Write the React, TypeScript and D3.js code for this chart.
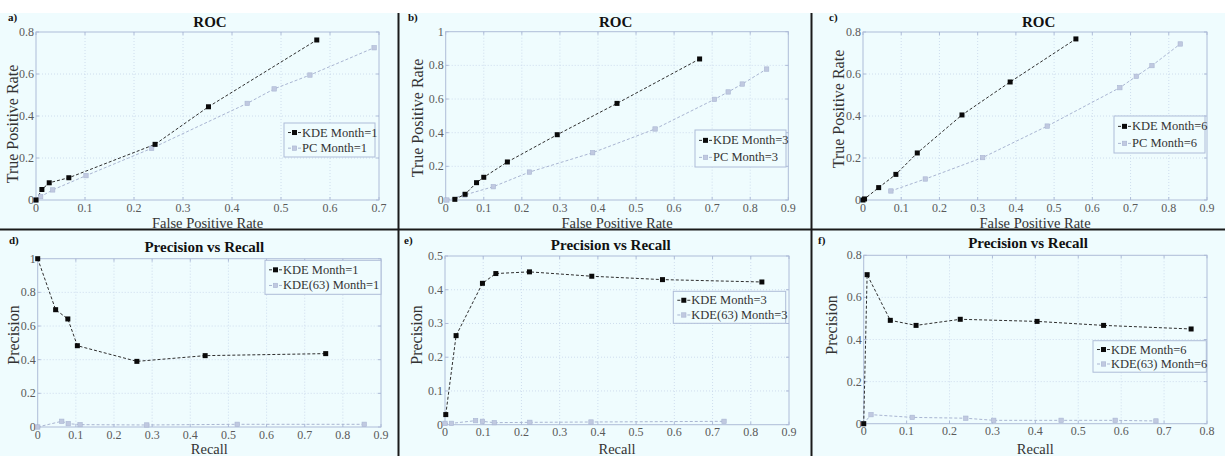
import React from "react";
import * as d3 from "d3";

// ---------- data ----------
const aKdeX = [0, 0.012, 0.027, 0.067, 0.243, 0.352, 0.573];
const aKdeY = [0, 0.05, 0.082, 0.106, 0.265, 0.444, 0.762];
const aPcX = [0, 0.0095, 0.034, 0.102, 0.236, 0.431, 0.486, 0.559, 0.69];
const aPcY = [0, 0.016, 0.048, 0.116, 0.246, 0.46, 0.529, 0.595, 0.725];

const bKdeX = [0.024, 0.051, 0.081, 0.1, 0.162, 0.293, 0.45, 0.667];
const bKdeY = [0.004, 0.034, 0.103, 0.135, 0.226, 0.388, 0.574, 0.838];
const bPcX = [0.003, 0.05, 0.125, 0.22, 0.386, 0.55, 0.706, 0.742, 0.779, 0.843];
const bPcY = [0, 0.03, 0.079, 0.166, 0.281, 0.422, 0.598, 0.642, 0.689, 0.778];

const cKdeX = [0, 0.004, 0.041, 0.086, 0.142, 0.259, 0.385, 0.557];
const cKdeY = [0, 0.005, 0.059, 0.122, 0.224, 0.405, 0.562, 0.767];
const cPcX = [0.073, 0.163, 0.313, 0.482, 0.672, 0.715, 0.756, 0.83];
const cPcY = [0.043, 0.1, 0.202, 0.352, 0.535, 0.589, 0.64, 0.743];

const dKdeX = [0, 0.047, 0.079, 0.104, 0.26, 0.439, 0.755];
const dKdeY = [1.0, 0.697, 0.642, 0.483, 0.39, 0.424, 0.436];
const d63X = [0, 0.063, 0.08, 0.111, 0.286, 0.523, 0.856];
const d63Y = [0, 0.034, 0.02, 0.014, 0.012, 0.016, 0.016];

const eKdeX = [0.002, 0.029, 0.098, 0.133, 0.221, 0.384, 0.569, 0.829];
const eKdeY = [0.03, 0.264, 0.419, 0.448, 0.453, 0.44, 0.43, 0.423];
const e63X = [0, 0.017, 0.08, 0.098, 0.129, 0.222, 0.382, 0.73];
const e63Y = [0.004, 0.004, 0.012, 0.01, 0.006, 0.007, 0.008, 0.01];

const fKdeX = [0, 0.008, 0.062, 0.122, 0.225, 0.404, 0.559, 0.763];
const fKdeY = [0, 0.708, 0.491, 0.467, 0.496, 0.486, 0.467, 0.45];
const f63X = [0, 0.017, 0.113, 0.238, 0.303, 0.46, 0.586, 0.681];
const f63Y = [0, 0.043, 0.03, 0.026, 0.016, 0.016, 0.016, 0.013];

const ticks01_07 = [0, 0.1, 0.2, 0.3, 0.4, 0.5, 0.6, 0.7];
const ticks01_08 = [0, 0.1, 0.2, 0.3, 0.4, 0.5, 0.6, 0.7, 0.8];
const ticks01_09 = [0, 0.1, 0.2, 0.3, 0.4, 0.5, 0.6, 0.7, 0.8, 0.9];
const ticks02_08 = [0, 0.2, 0.4, 0.6, 0.8];
const ticks02_10 = [0, 0.2, 0.4, 0.6, 0.8, 1];
const ticks01_05 = [0, 0.1, 0.2, 0.3, 0.4, 0.5];

const panelLetters = ["a)", "b)", "c)", "d)", "e)", "f)"];
const titles = ["ROC", "ROC", "ROC", "Precision vs Recall", "Precision vs Recall", "Precision vs Recall"];
const xLabels = ["False Positive Rate", "False Positive Rate", "False Positive Rate", "Recall", "Recall", "Recall"];
const yLabels = ["True Positive Rate", "True Positive Rate", "True Positive Rate", "Precision", "Precision", "Precision"];
const legend1 = ["KDE Month=1", "KDE Month=3", "KDE Month=6", "KDE Month=1", "KDE Month=3", "KDE Month=6"];
const legend2 = ["PC Month=1", "PC Month=3", "PC Month=6", "KDE(63) Month=1", "KDE(63) Month=3", "KDE(63) Month=6"];

const s1X = [aKdeX, bKdeX, cKdeX, dKdeX, eKdeX, fKdeX];
const s1Y = [aKdeY, bKdeY, cKdeY, dKdeY, eKdeY, fKdeY];
const s2X = [aPcX, bPcX, cPcX, d63X, e63X, f63X];
const s2Y = [aPcY, bPcY, cPcY, d63Y, e63Y, f63Y];
const xTicks = [ticks01_07, ticks01_09, ticks01_09, ticks01_09, ticks01_09, ticks01_08];
const yTicks = [ticks02_08, ticks02_10, ticks02_08, ticks02_10, ticks01_05, ticks02_08];

// ---------- layout ----------
const W = 1225;
const H = 456;
const layout = [
  { l: 36, r: 379, t: 32, b: 200, letter: [8, 21], title: [210, 27], ylab: [13, 124], xlabY: 227.5, leg: [284, 123, 91, 34] },
  { l: 445.7, r: 788.3, t: 31.7, b: 200, letter: [408, 21], title: [615.7, 27], ylab: [418, 118], xlabY: 227.5, leg: [695, 130, 91, 37] },
  { l: 863, r: 1207, t: 32, b: 200, letter: [829, 21], title: [1038.7, 27], ylab: [839, 109], xlabY: 227.5, leg: [1114, 116, 91, 37] },
  { l: 37.7, r: 381, t: 258.7, b: 427, letter: [9, 244], title: [204.3, 251.5], ylab: [13.5, 335], xlabY: 454, leg: [265, 260.3, 116, 34] },
  { l: 445, r: 789, t: 256, b: 424.7, letter: [404, 244], title: [610.7, 250], ylab: [417, 335], xlabY: 454, leg: [673.3, 291.3, 112.4, 32] },
  { l: 863.7, r: 1207, t: 255.3, b: 423.7, letter: [818, 244], title: [1028, 247.5], ylab: [832, 325], xlabY: 454, leg: [1093, 340.7, 113.3, 31.5] },
];

const BG = "#effcfe";
const AXIS = "#aebcd8";
const GRID = "#c6d6ea";
const DARK = "#2e2e2e";
const LIGHT = "#a9b5d2";
const SERIF = "'Liberation Serif', 'Times New Roman', serif";

const fmt = (v: number) => (v === 0 ? "0" : v === 1 ? "1" : d3.format(".1f")(v));

function Panel({ i }: { i: number }) {
  const L = layout[i];
  const xt = xTicks[i];
  const yt = yTicks[i];
  const x = d3.scaleLinear().domain([0, xt[xt.length - 1]]).range([L.l, L.r]);
  const y = d3.scaleLinear().domain([0, yt[yt.length - 1]]).range([L.b, L.t]);
  const line = d3.line<[number, number]>().x((d) => x(d[0])).y((d) => y(d[1]));
  const p1 = s1X[i].map((v, k) => [v, s1Y[i][k]] as [number, number]);
  const p2 = s2X[i].map((v, k) => [v, s2Y[i][k]] as [number, number]);
  const [lx, ly, lw, lh] = L.leg;
  const r1 = ly + lh * 0.28;
  const r2 = ly + lh * 0.74;
  return (
    <g>
      <text x={L.letter[0]} y={L.letter[1]} fontFamily={SERIF} fontWeight="bold" fontSize={11} fill="#111">
        {panelLetters[i]}
      </text>
      <text x={L.title[0]} y={L.title[1]} fontFamily={SERIF} fontWeight="bold" fontSize={15} fill="#111" textAnchor="middle">
        {titles[i]}
      </text>
      {xt.slice(1, -1).map((t) => (
        <line key={"gx" + t} x1={x(t)} x2={x(t)} y1={L.t} y2={L.b} stroke={GRID} strokeWidth={0.8} strokeDasharray="1,2" />
      ))}
      {yt.slice(1, -1).map((t) => (
        <line key={"gy" + t} x1={L.l} x2={L.r} y1={y(t)} y2={y(t)} stroke={GRID} strokeWidth={0.8} strokeDasharray="1,2" />
      ))}
      <rect x={L.l} y={L.t} width={L.r - L.l} height={L.b - L.t} fill="none" stroke={AXIS} strokeWidth={1} />
      {xt.map((t) => (
        <g key={"tx" + t}>
          <line x1={x(t)} x2={x(t)} y1={L.b} y2={L.b - 3} stroke={AXIS} />
          <line x1={x(t)} x2={x(t)} y1={L.t} y2={L.t + 3} stroke={AXIS} />
          <text x={x(t)} y={L.b + 11.5} fontFamily={SERIF} fontSize={12} fill="#5a5a5a" textAnchor="middle">
            {fmt(t)}
          </text>
        </g>
      ))}
      {yt.map((t) => (
        <g key={"ty" + t}>
          <line x1={L.l} x2={L.l + 3} y1={y(t)} y2={y(t)} stroke={AXIS} />
          <line x1={L.r} x2={L.r - 3} y1={y(t)} y2={y(t)} stroke={AXIS} />
          <text x={L.l - 2} y={y(t) + 4} fontFamily={SERIF} fontSize={12} fill="#5a5a5a" textAnchor="end">
            {fmt(t)}
          </text>
        </g>
      ))}
      <text x={(L.l + L.r) / 2} y={L.xlabY} fontFamily={SERIF} fontSize={14.5} fill="#333" textAnchor="middle">
        {xLabels[i]}
      </text>
      <text
        transform={`translate(${L.ylab[0] + 5},${L.ylab[1]}) rotate(-90)`}
        fontFamily={SERIF}
        fontSize={16}
        fill="#333"
        textAnchor="middle"
      >
        {yLabels[i]}
      </text>
      <path d={line(p2) || ""} fill="none" stroke={LIGHT} strokeWidth={1} strokeDasharray="3,2" />
      <path d={line(p1) || ""} fill="none" stroke={DARK} strokeWidth={1} strokeDasharray="3,2" />
      {p2.map((d, k) => (
        <rect key={"m2" + k} x={x(d[0]) - 2.2} y={y(d[1]) - 2.2} width={4.4} height={4.4} fill="#c0c9e0" stroke={LIGHT} strokeWidth={0.6} />
      ))}
      {p1.map((d, k) => (
        <rect key={"m1" + k} x={x(d[0]) - 2.5} y={y(d[1]) - 2.5} width={5} height={5} fill="#0a0a0a" />
      ))}
      <rect x={lx} y={ly} width={lw} height={lh} fill={BG} stroke={AXIS} strokeWidth={1} />
      <line x1={lx + 4} x2={lx + 17} y1={r1} y2={r1} stroke={DARK} strokeDasharray="3,2" />
      <rect x={lx + 8} y={r1 - 2.5} width={5} height={5} fill="#0a0a0a" />
      <text x={lx + 18} y={r1 + 4} fontFamily={SERIF} fontSize={12.5} fill="#333">
        {legend1[i]}
      </text>
      <line x1={lx + 4} x2={lx + 17} y1={r2} y2={r2} stroke={LIGHT} strokeDasharray="3,2" />
      <rect x={lx + 8.3} y={r2 - 2.2} width={4.4} height={4.4} fill="#c0c9e0" stroke={LIGHT} strokeWidth={0.6} />
      <text x={lx + 18} y={r2 + 4} fontFamily={SERIF} fontSize={12.5} fill="#333">
        {legend2[i]}
      </text>
    </g>
  );
}

export default function App() {
  return (
    <svg
      width={W}
      height={H}
      viewBox={`0 0 ${W} ${H}`}
      style={{ position: "absolute", left: 0, top: 0, display: "block" }}
    >
      <rect x={0} y={0} width={W} height={H} fill="#ffffff" />
      <rect x={0} y={13} width={W} height={H - 13} fill={BG} />
      {[0, 1, 2, 3, 4, 5].map((i) => (
        <Panel key={i} i={i} />
      ))}
      <line x1={398.5} x2={398.5} y1={13} y2={H} stroke="#1a1a1a" strokeWidth={2} />
      <line x1={811.5} x2={811.5} y1={13} y2={H} stroke="#1a1a1a" strokeWidth={2} />
      <line x1={0} x2={W} y1={229.5} y2={229.5} stroke="#1a1a1a" strokeWidth={2} />
    </svg>
  );
}
